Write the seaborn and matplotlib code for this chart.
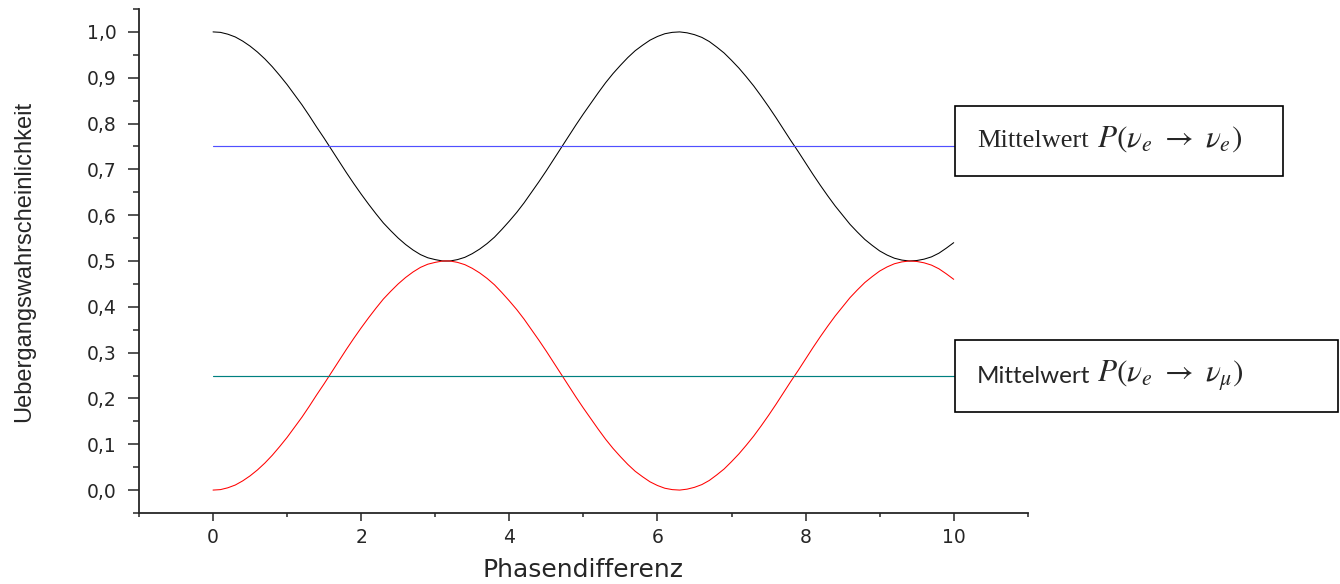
import matplotlib
matplotlib.use("Agg")
import matplotlib.pyplot as plt
import seaborn as sns
import pandas as pd
from matplotlib.patches import Rectangle
from matplotlib.ticker import MultipleLocator, FuncFormatter

# Phase difference samples and transition probabilities
phase = [0.0, 0.1, 0.2, 0.3, 0.4, 0.5, 0.6, 0.7, 0.8, 0.9,
         1.0, 1.1, 1.2, 1.3, 1.4, 1.5, 1.6, 1.7, 1.8, 1.9,
         2.0, 2.1, 2.2, 2.3, 2.4, 2.5, 2.6, 2.7, 2.8, 2.9,
         3.0, 3.1, 3.2, 3.3, 3.4, 3.5, 3.6, 3.7, 3.8, 3.9,
         4.0, 4.1, 4.2, 4.3, 4.4, 4.5, 4.6, 4.7, 4.8, 4.9,
         5.0, 5.1, 5.2, 5.3, 5.4, 5.5, 5.6, 5.7, 5.8, 5.9,
         6.0, 6.1, 6.2, 6.3, 6.4, 6.5, 6.6, 6.7, 6.8, 6.9,
         7.0, 7.1, 7.2, 7.3, 7.4, 7.5, 7.6, 7.7, 7.8, 7.9,
         8.0, 8.1, 8.2, 8.3, 8.4, 8.5, 8.6, 8.7, 8.8, 8.9,
         9.0, 9.1, 9.2, 9.3, 9.4, 9.5, 9.6, 9.7, 9.8, 9.9,
         10.0]
p_ee = [1.000, 0.999, 0.995, 0.989, 0.980, 0.969, 0.956, 0.941, 0.924, 0.905,
        0.885, 0.863, 0.841, 0.817, 0.792, 0.768, 0.743, 0.718, 0.693, 0.669,
        0.646, 0.624, 0.603, 0.583, 0.566, 0.550, 0.536, 0.524, 0.514, 0.507,
        0.503, 0.500, 0.500, 0.503, 0.508, 0.516, 0.526, 0.538, 0.552, 0.569,
        0.587, 0.606, 0.627, 0.650, 0.673, 0.697, 0.722, 0.747, 0.772, 0.797,
        0.821, 0.844, 0.867, 0.889, 0.909, 0.927, 0.944, 0.959, 0.971, 0.982,
        0.990, 0.996, 0.999, 1.000, 0.998, 0.994, 0.988, 0.979, 0.967, 0.954,
        0.938, 0.921, 0.902, 0.882, 0.860, 0.837, 0.813, 0.788, 0.763, 0.739,
        0.714, 0.689, 0.665, 0.642, 0.620, 0.600, 0.580, 0.563, 0.547, 0.534,
        0.522, 0.513, 0.506, 0.502, 0.500, 0.501, 0.504, 0.509, 0.517, 0.528,
        0.540]
p_emu = [0.000, 0.001, 0.005, 0.011, 0.020, 0.031, 0.044, 0.059, 0.076, 0.095,
         0.115, 0.137, 0.159, 0.183, 0.208, 0.232, 0.257, 0.282, 0.307, 0.331,
         0.354, 0.376, 0.397, 0.417, 0.434, 0.450, 0.464, 0.476, 0.486, 0.493,
         0.497, 0.500, 0.500, 0.497, 0.492, 0.484, 0.474, 0.462, 0.448, 0.431,
         0.413, 0.394, 0.373, 0.350, 0.327, 0.303, 0.278, 0.253, 0.228, 0.203,
         0.179, 0.156, 0.133, 0.111, 0.091, 0.073, 0.056, 0.041, 0.029, 0.018,
         0.010, 0.004, 0.001, 0.000, 0.002, 0.006, 0.012, 0.021, 0.033, 0.046,
         0.062, 0.079, 0.098, 0.118, 0.140, 0.163, 0.187, 0.212, 0.237, 0.261,
         0.286, 0.311, 0.335, 0.358, 0.380, 0.400, 0.420, 0.437, 0.453, 0.466,
         0.478, 0.487, 0.494, 0.498, 0.500, 0.499, 0.496, 0.491, 0.483, 0.472,
         0.460]
mean_x = [0.0, 10.0]
mean_ee = [0.75, 0.75]
mean_emu = [0.25, 0.25]

y_ticks = [0.0, 0.1, 0.2, 0.3, 0.4, 0.5, 0.6, 0.7, 0.8, 0.9, 1.0]
x_ticks = [0, 2, 4, 6, 8, 10]

sns.set_style("ticks")
plt.rcParams['font.family'] = ['DejaVu Sans']
plt.rcParams['mathtext.fontset'] = 'stix'

fig = plt.figure(figsize=(13.4, 5.84), dpi=100)
ax = fig.add_axes([0.1037, 0.1216, 0.6633, 0.863])

curves = pd.DataFrame({'phase': phase, 'p_ee': p_ee, 'p_emu': p_emu})
sns.lineplot(data=curves, x='phase', y='p_ee', color='black', linewidth=0.75, ax=ax)
sns.lineplot(data=curves, x='phase', y='p_emu', color='red', linewidth=0.75, ax=ax)
sns.lineplot(x=mean_x, y=mean_ee, color='#5050ff', linewidth=0.85, ax=ax)
sns.lineplot(x=mean_x, y=mean_emu, color='#008080', linewidth=0.85, ax=ax)

ax.set_xlim(-1, 11)
ax.set_ylim(-0.05, 1.05)
ax.set_xticks(x_ticks)
ax.set_yticks(y_ticks)
ax.xaxis.set_minor_locator(MultipleLocator(1))
ax.yaxis.set_minor_locator(MultipleLocator(0.05))
ax.yaxis.set_major_formatter(FuncFormatter(lambda v, p: f"{v:.1f}".replace('.', ',')))
ax.tick_params(which='both', direction='out', width=1.1, labelsize=13.5)
ax.tick_params(axis='y', which='major', length=8, pad=8)
ax.tick_params(axis='y', which='minor', length=4)
ax.tick_params(axis='x', which='major', length=6, pad=5)
ax.tick_params(axis='x', which='minor', length=3)
for s in ['top', 'right']:
    ax.spines[s].set_visible(False)
for s in ['left', 'bottom']:
    ax.spines[s].set_linewidth(1.3)

ax.set_xlabel('Phasendifferenz', fontsize=18)
ax.xaxis.set_label_coords(0.5, -0.09)
ax.set_ylabel('Uebergangswahrscheinlichkeit', fontsize=17, family='Liberation Sans')
ax.yaxis.set_label_coords(-0.117, 0.5)

# Text boxes for the mean values
fig.patches.append(Rectangle((0.7127, 0.6986), 0.2448, 0.1199, transform=fig.transFigure,
                             fill=False, edgecolor='black', linewidth=1.2))
fig.patches.append(Rectangle((0.7127, 0.2945), 0.2858, 0.1233, transform=fig.transFigure,
                             fill=False, edgecolor='black', linewidth=1.2))
fig.text(0.729, 0.7483, 'Mittelwert', fontsize=19, family='Liberation Serif',
         va='baseline', ha='left')
fig.text(0.8187, 0.7483, r'$P(\nu_e\ \rightarrow\ \nu_e)$', fontsize=22.5,
         va='baseline', ha='left')
fig.text(0.729, 0.3442, 'Mittelwert', fontsize=17.5, family='Lato',
         va='baseline', ha='left')
fig.text(0.8187, 0.3442, r'$P\left(\nu_e\ \rightarrow\ \nu_\mu\right)$', fontsize=22.5,
         va='baseline', ha='left')

fig.savefig('out.png', dpi=100)
